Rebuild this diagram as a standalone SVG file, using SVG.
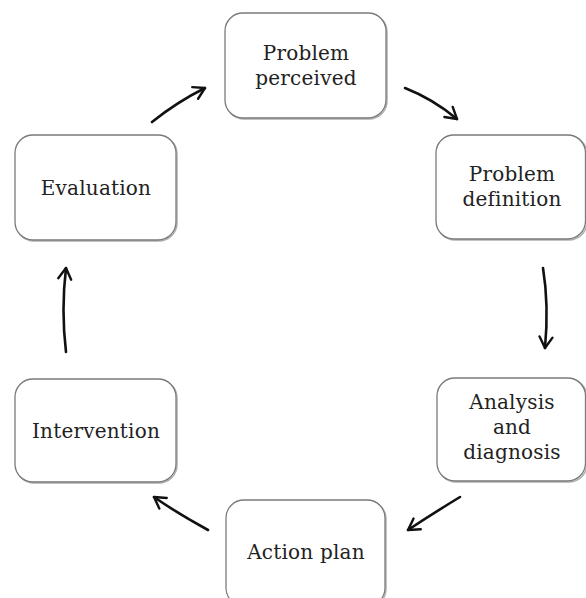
<svg xmlns="http://www.w3.org/2000/svg" width="586" height="598" viewBox="0 0 586 598">
  <defs>
    <marker id="head" viewBox="-13 -9 15 18" refX="0" refY="0" markerWidth="15" markerHeight="18" markerUnits="userSpaceOnUse" orient="auto">
      <path d="M -11 -6.5 L 0 0 L -11 6.5" fill="none" stroke="#111" stroke-width="2.4" stroke-linecap="round" stroke-linejoin="round"/>
    </marker>
  </defs>
  <style>
    .box { fill: #ffffff; stroke: #7a7a7a; stroke-width: 1.3; }
    .shade { fill: none; stroke: #b0b0b0; stroke-width: 1.5; }
    text { font-family: 'DejaVu Serif', 'Liberation Serif', serif; font-size: 20px; fill: #222222; text-anchor: middle; letter-spacing: 0.2px; }
    .arrow { fill: none; stroke: #111; stroke-width: 2.6; stroke-linecap: round; marker-end: url(#head); }
  </style>
  <rect width="586" height="598" fill="#ffffff"/>

  <!-- cycle steps -->
  <g id="problem-perceived">
    <rect class="shade" x="226" y="14" width="161" height="105" rx="18"/>
    <rect class="box" x="225" y="13" width="161" height="105" rx="18"/>
    <text x="306" y="60">Problem</text>
    <text x="306" y="85">perceived</text>
  </g>

  <g id="problem-definition">
    <rect class="shade" x="437" y="136" width="150" height="104" rx="18"/>
    <rect class="box" x="436" y="135" width="149.5" height="104" rx="18"/>
    <text x="512" y="181">Problem</text>
    <text x="512" y="206">definition</text>
  </g>

  <g id="analysis-diagnosis">
    <rect class="shade" x="438" y="379" width="149" height="103" rx="18"/>
    <rect class="box" x="437" y="378" width="148.5" height="103" rx="18"/>
    <text x="512" y="409">Analysis</text>
    <text x="512" y="434">and</text>
    <text x="512" y="459">diagnosis</text>
  </g>

  <g id="action-plan">
    <rect class="shade" x="227" y="501" width="159" height="106" rx="18"/>
    <rect class="box" x="226" y="500" width="159" height="106" rx="18"/>
    <text x="306" y="559">Action plan</text>
  </g>

  <g id="intervention">
    <rect class="shade" x="16" y="380" width="161" height="103" rx="18"/>
    <rect class="box" x="15" y="379" width="161" height="103" rx="18"/>
    <text x="96" y="438">Intervention</text>
  </g>

  <g id="evaluation">
    <rect class="shade" x="16" y="136" width="161" height="105" rx="18"/>
    <rect class="box" x="15" y="135" width="161" height="105" rx="18"/>
    <text x="96" y="195">Evaluation</text>
  </g>

  <!-- hand-drawn connectors -->
  <g id="connectors">
    <path class="arrow" d="M 152 122 Q 177 102 205 88"/>
    <path class="arrow" d="M 405 88 Q 433 99 457 119"/>
    <path class="arrow" d="M 543 268 Q 549 305 545 348"/>
    <path class="arrow" d="M 460 497 Q 432 514 408 530"/>
    <path class="arrow" d="M 208 530 Q 177 513 154 497"/>
    <path class="arrow" d="M 66 352 Q 61 310 66 268"/>
  </g>
</svg>
